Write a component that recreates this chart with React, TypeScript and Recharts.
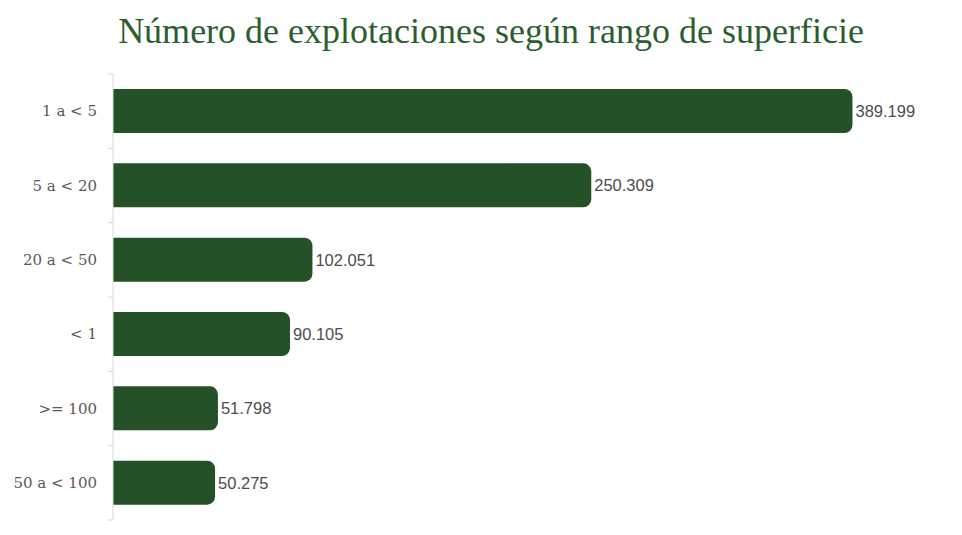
import { BarChart, Bar, XAxis, YAxis, LabelList } from 'recharts'

const categories = ['1 a < 5', '5 a < 20', '20 a < 50', '< 1', '>= 100', '50 a < 100']
const explotaciones = [389199, 250309, 102051, 90105, 51798, 50275]

const data = categories.map((rango, i) => ({ rango, explotaciones: explotaciones[i] }))

const W = 962
const H = 535
const TOP = 74
const BOTTOM = 15
const BAND = (H - TOP - BOTTOM) / categories.length
const TICK_SIZE = 6
const TICK_MARGIN = 10
// the value axis starts a little below zero, bars grow from the axis line
const X_MIN = -4000
const X_MAX = 440000

const fmt = (v: number) => v.toLocaleString('de-DE')

function RangeTick(props: any) {
  const { x, y, payload, index } = props
  const axisX = x + TICK_SIZE + TICK_MARGIN
  return (
    <g>
      <line x1={axisX - 5} x2={axisX} y1={y - BAND / 2} y2={y - BAND / 2} stroke="#d9d9d9" />
      {index === categories.length - 1 && (
        <line x1={axisX - 5} x2={axisX} y1={y + BAND / 2} y2={y + BAND / 2} stroke="#d9d9d9" />
      )}
      <text x={x} y={y} dy={5} textAnchor="end" fill="#595959" fontSize={15} fontFamily="DejaVu Serif">
        {payload.value}
      </text>
    </g>
  )
}

export default function App() {
  return (
    <div style={{ position: 'absolute', left: 0, top: 0, width: W, height: H, background: '#fff' }}>
      <div
        style={{
          position: 'absolute',
          top: 11,
          left: 20,
          width: W - 20,
          textAlign: 'center',
          fontFamily: '"Liberation Serif", serif',
          fontSize: 36,
          color: '#2b5e2f',
          lineHeight: '40px',
        }}
      >
        Número de explotaciones según rango de superficie
      </div>
      <BarChart
        width={W}
        height={H}
        data={data}
        layout="vertical"
        margin={{ top: TOP, right: 14, bottom: BOTTOM, left: 0 }}
      >
        <XAxis type="number" domain={[X_MIN, X_MAX]} allowDataOverflow hide />
        <YAxis
          type="category"
          dataKey="rango"
          width={113}
          tickSize={TICK_SIZE}
          tickMargin={TICK_MARGIN}
          tickLine={false}
          axisLine={{ stroke: '#d9d9d9' }}
          tick={<RangeTick />}
          interval={0}
        />
        <Bar
          dataKey={(d: any) => [X_MIN, d.explotaciones]}
          fill="#245128"
          barSize={44}
          radius={[0, 8, 8, 0]}
          isAnimationActive={false}
        >
          <LabelList
            dataKey="explotaciones"
            position="right"
            offset={3}
            formatter={(v: any) => fmt(Number(v))}
            fill="#4d4d4d"
            fontSize={16.5}
            fontFamily="Liberation Sans"
          />
        </Bar>
      </BarChart>
    </div>
  )
}
